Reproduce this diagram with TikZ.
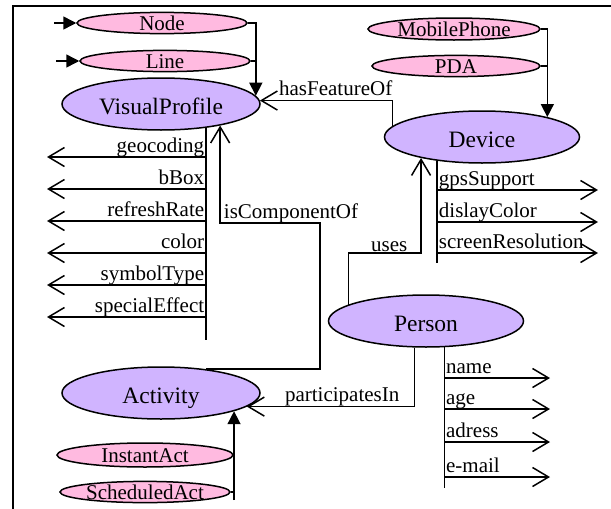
\documentclass[tikz,border=0pt]{standalone}
\usepackage{fontspec}
\setmainfont{Liberation Serif}
\usetikzlibrary{shapes.geometric,arrows.meta}
\definecolor{subpink}{RGB}{255,186,224}
\definecolor{classlav}{RGB}{208,180,255}
\begin{document}
\begin{tikzpicture}[x=1pt,y=-1pt,line width=1.5pt,
    cls/.style={ellipse,draw,fill=classlav,minimum width=198pt,minimum height=52pt,
      inner sep=0pt,text height=20pt,text depth=0pt,font=\fontsize{23.5}{26}\selectfont},
    sub/.style={ellipse,draw,fill=subpink,minimum width=170pt,minimum height=21pt,
      inner sep=0pt,text height=15pt,text depth=0pt,font=\fontsize{21}{24}\selectfont},
    lbl/.style={inner sep=1pt,text height=15pt,text depth=3pt,font=\fontsize{21}{24}\selectfont},
    prop/.style={-{Straight Barb[length=16pt,width=19pt]}},
    isa/.style={-{Triangle[length=13pt,width=13pt]}}]
  \useasboundingbox (0,0) rectangle (611,509);
  \draw (13,509) -- (13,6) -- (611,6);

  \node[sub] (nd) at (162,23) {Node};
  \node[sub] (ln) at (165,61) {Line};
  \node[cls] (vp) at (161,104) {VisualProfile};
  \node[sub,minimum width=172pt,minimum height=22pt] (mp) at (454,29) {MobilePhone};
  \node[sub,minimum width=168pt] (pda) at (456,66) {PDA};
  \node[cls,minimum width=195pt] (dev) at (482,137) {Device};
  \node[cls,minimum width=195pt] (per) at (426,321) {Person};
  \node[cls] (act) at (161,393) {Activity};
  \node[sub,minimum width=176pt,minimum height=24pt] (ia) at (145,455) {InstantAct};
  \node[sub] (sa) at (145,492) {ScheduledAct};

  \draw[isa] ([xshift=-22pt]nd.west) -- (nd.west);
  \draw[isa] ([xshift=-23pt]ln.west) -- (ln.west);
  \draw[isa] (nd.east) -| (vp.5);
  \draw (ln.east) -- (ln.east -| vp.5);

  \draw[isa] (mp.east) -| (dev.17);
  \draw (pda.east) -- (pda.east -| dev.17);

  \draw[prop] (dev.173) |- node[lbl,pos=0.714,anchor=south]{hasFeatureOf} (vp.2);

  \draw (vp.-28) -- (vp.-28 |- 0,340);
  \foreach \lab/\y in {geocoding/157,bBox/189,refreshRate/221,color/253,symbolType/285,specialEffect/317}
    \draw[prop] (vp.-28 |- 0,\y) -- node[lbl,pos=0,anchor=south east]{\lab} (47,\y);

  \draw[prop] (act.28) -| (320,223) -- node[lbl,pos=1,anchor=south west,xshift=2pt]{isComponentOf} (vp.-20.5 |- 0,223) -- (vp.-20.5);

  \draw (dev.-152) -- (dev.-152 |- 0,263);
  \foreach \lab/\y in {gpsSupport/190,dislayColor/222,screenResolution/253}
    \draw[prop] (dev.-152 |- 0,\y) -- node[lbl,pos=0,anchor=south west]{\lab} (598,\y);

  \draw[prop] (per.168) |- node[lbl,text depth=0pt,pos=1,anchor=south east,xshift=-12pt]{uses} (dev.-161 |- 0,253) -- (dev.-161);

  \draw (per.-55) -- (per.-55 |- 0,488);
  \foreach \lab/\y in {name/378,age/409,adress/442,e-mail/477}
    \draw[prop] (per.-55 |- 0,\y) -- node[lbl,pos=0,anchor=south west]{\lab} (550,\y);

  \draw[prop] (per.-113) |- node[lbl,pos=0.716,anchor=south]{participatesIn} (act.-9);

  \draw[isa] (act.-14 |- 0,500) -- (act.-14);
  \draw (ia.east) -- (ia.east -| act.-14);
  \draw (sa.east) -- (sa.east -| act.-14);
\end{tikzpicture}
\end{document}
